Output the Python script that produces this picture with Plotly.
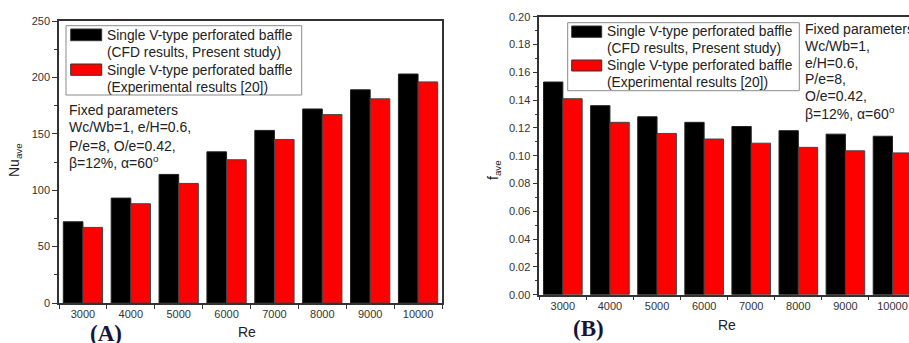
import plotly.graph_objects as go

# ---------------- data ----------------
re_labels = ["3000", "4000", "5000", "6000", "7000", "8000", "9000", "10000"]
nu_cfd = [72, 93, 114, 134, 153, 172, 189, 203]
nu_exp = [67, 88, 106, 127, 145, 167, 181, 196]
f_cfd = [0.153, 0.136, 0.128, 0.124, 0.121, 0.118, 0.1155, 0.114]
f_exp = [0.141, 0.124, 0.116, 0.112, 0.109, 0.106, 0.1035, 0.102]

legend_lines = ["Single V-type perforated baffle", "(CFD results, Present study)",
                "Single V-type perforated baffle", "(Experimental results [20])"]
params_a = ["Fixed parameters", "Wc/Wb=1, e/H=0.6,", "P/e=8, O/e=0.42,",
            "β=12%, α=60<sup>o</sup>"]
params_b = ["Fixed parameters", "Wc/Wb=1,", "e/H=0.6,", "P/e=8,", "O/e=0.42,",
            "β=12%, α=60<sup>o</sup>"]

# ---------------- layout helpers ----------------
W, H = 909, 343
def px(x):
    return x / W
def py(y):
    return 1 - y / H

FONT = "Liberation Sans, Arial, sans-serif"
AXC = "#333333"
BLACK = "#000000"
RED = "#ff0000"

fig = go.Figure()
fig.add_trace(go.Bar(x=re_labels, y=nu_cfd, marker=dict(color=BLACK, line=dict(color="#222", width=1)),
                     xaxis="x", yaxis="y", showlegend=False, name="CFD"))
fig.add_trace(go.Bar(x=re_labels, y=nu_exp, marker=dict(color=RED, line=dict(color="#444", width=1)),
                     xaxis="x", yaxis="y", showlegend=False, name="Exp"))
fig.add_trace(go.Bar(x=re_labels, y=f_cfd, marker=dict(color=BLACK, line=dict(color="#222", width=1)),
                     xaxis="x2", yaxis="y2", showlegend=False, name="CFD"))
fig.add_trace(go.Bar(x=re_labels, y=f_exp, marker=dict(color=RED, line=dict(color="#444", width=1)),
                     xaxis="x2", yaxis="y2", showlegend=False, name="Exp"))

common_x = dict(type="category", tickson="boundaries", ticks="outside", ticklen=4,
                tickcolor=AXC, showline=True, linecolor=AXC, linewidth=1.5, mirror=True,
                showgrid=False, zeroline=False, automargin=False,
                tickfont=dict(family=FONT, size=11, color="#333"))
common_y = dict(ticks="outside", ticklen=5, tickcolor=AXC, showline=True, linecolor=AXC,
                linewidth=1.5, mirror=True, showgrid=False, zeroline=False, automargin=False,
                tickfont=dict(family=FONT, size=11, color="#333"))

fig.update_layout(
    template="none",
    width=W, height=H, margin=dict(l=0, r=0, t=0, b=0, pad=0, autoexpand=False),
    paper_bgcolor="white", plot_bgcolor="white",
    barmode="group", bargap=0.18, bargroupgap=0,
    font=dict(family=FONT, color="#222"),
    xaxis=dict(domain=[px(59), px(442)], anchor="y", range=[-0.5, 7.5], **common_x),
    yaxis=dict(domain=[py(303), py(21)], anchor="x", range=[0, 250], dtick=50,
               minor=dict(dtick=25, ticks="outside", ticklen=3, tickcolor=AXC), **common_y),
    xaxis2=dict(domain=[px(539.3), 1], anchor="y2", range=[-0.5, 7.35], **common_x),
    yaxis2=dict(domain=[py(294.7), py(16.7)], anchor="x2", range=[0, 0.2], dtick=0.02,
                tickformat=".2f",
                minor=dict(dtick=0.01, ticks="outside", ticklen=3, tickcolor=AXC), **common_y),
)

shapes = []
annotations = []

def add_legend(x0, y0, x1, y1, sw_x0, sw_x1, sw_black, sw_red, text_x, line_ys):
    shapes.append(dict(type="rect", xref="paper", yref="paper", x0=px(x0), x1=px(x1),
                       y0=py(y1), y1=py(y0), line=dict(color="#8a8a8a", width=1),
                       fillcolor="rgba(255,255,255,0)"))
    for (a, b), col in [(sw_black, BLACK), (sw_red, RED)]:
        shapes.append(dict(type="rect", xref="paper", yref="paper", x0=px(sw_x0), x1=px(sw_x1),
                           y0=py(b), y1=py(a), line=dict(color="#333", width=1), fillcolor=col))
    for t, yy in zip(legend_lines, line_ys):
        annotations.append(dict(text=t, xref="paper", yref="paper", x=px(text_x), y=py(yy),
                                xanchor="left", yanchor="middle", showarrow=False,
                                font=dict(family=FONT, size=13.8, color="#222")))

add_legend(66, 25.7, 301.7, 95, 70.7, 101.7, (29, 40.7), (64, 75.3), 104.5, [35, 52.3, 70, 87.3])
add_legend(567.7, 22.7, 799.3, 90.7, 571.7, 601.7, (26, 37.3), (60, 71), 605, [31.7, 48.3, 65.7, 82.3])

for t, yy in zip(params_a, [110, 127.3, 145.7, 162]):
    annotations.append(dict(text=t, xref="paper", yref="paper", x=px(67), y=py(yy),
                            xanchor="left", yanchor="middle", showarrow=False,
                            font=dict(family=FONT, size=14, color="#222")))
for t, yy in zip(params_b, [29, 45.7, 62.7, 79.3, 96, 113]):
    annotations.append(dict(text=t, xref="paper", yref="paper", x=px(803), y=py(yy),
                            xanchor="left", yanchor="middle", showarrow=False,
                            font=dict(family=FONT, size=14, color="#222")))

# axis titles
annotations.append(dict(text="Re", xref="paper", yref="paper", x=px(247), y=py(332),
                        xanchor="center", yanchor="middle", showarrow=False,
                        font=dict(family=FONT, size=14, color="#222")))
annotations.append(dict(text="Re", xref="paper", yref="paper", x=px(727), y=py(325),
                        xanchor="center", yanchor="middle", showarrow=False,
                        font=dict(family=FONT, size=14, color="#222")))
annotations.append(dict(text="Nu<sub>ave</sub>", xref="paper", yref="paper", x=px(15), y=py(160),
                        xanchor="center", yanchor="middle", showarrow=False, textangle=-90,
                        font=dict(family=FONT, size=14, color="#222")))
annotations.append(dict(text="f<sub>ave</sub>", xref="paper", yref="paper", x=px(494), y=py(170),
                        xanchor="center", yanchor="middle", showarrow=False, textangle=-90,
                        font=dict(family=FONT, size=14, color="#222")))
# panel labels
annotations.append(dict(text="<b>(A)</b>", xref="paper", yref="paper", x=px(106), y=py(333),
                        xanchor="center", yanchor="middle", showarrow=False,
                        font=dict(family="Liberation Serif, Times New Roman, serif", size=23, color="#15153a")))
annotations.append(dict(text="<b>(B)</b>", xref="paper", yref="paper", x=px(588), y=py(328),
                        xanchor="center", yanchor="middle", showarrow=False,
                        font=dict(family="Liberation Serif, Times New Roman, serif", size=23, color="#15153a")))

fig.update_layout(shapes=shapes, annotations=annotations)
fig.write_html("out.html", config={"responsive": False, "displayModeBar": False},
               post_script="document.body.style.margin='0';document.body.style.overflow='hidden';")
